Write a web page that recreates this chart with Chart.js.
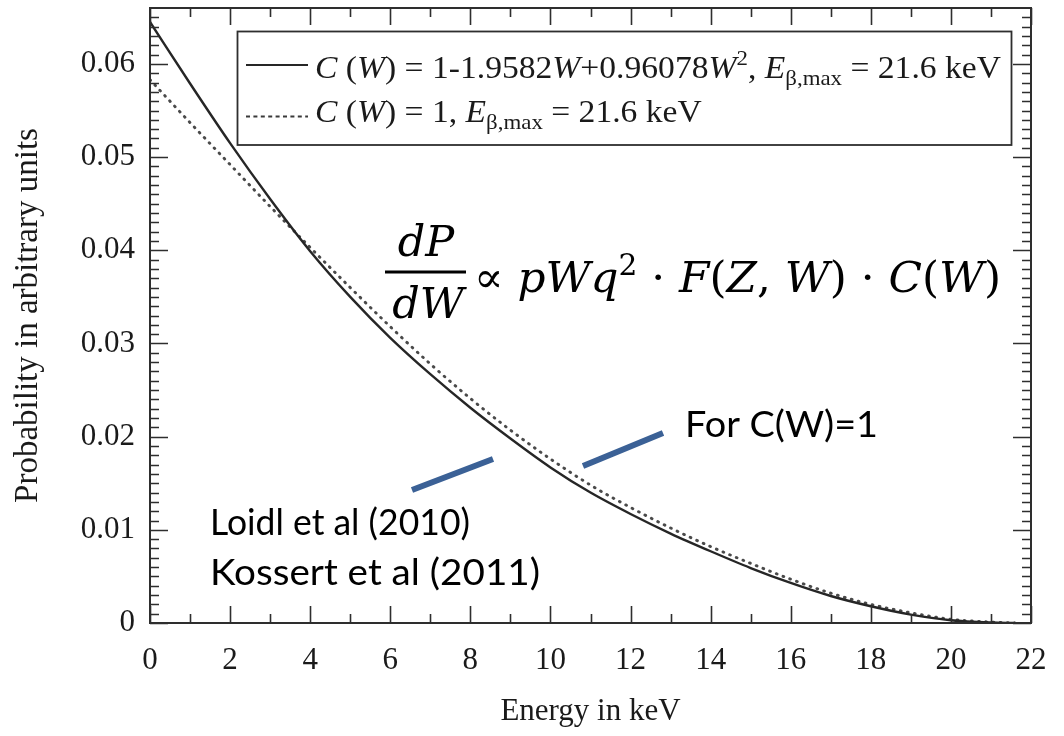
<!DOCTYPE html>
<html>
<head>
<meta charset="utf-8">
<script src="https://cdn.jsdelivr.net/npm/chart.js@4.4.1/dist/chart.umd.min.js"></script>
<style>
  html, body { margin: 0; padding: 0; background: #ffffff; }
  canvas { display: block; }
</style>
</head>
<body>
<canvas id="spectrum" width="1064" height="736"></canvas>
<script>
// Beta spectrum of a 21.6 keV emitter, with and without the shape factor C(W)
const energyKeV = [0, 1, 2, 3, 4, 5, 6, 7, 8, 9, 10, 11, 12, 13, 14, 15, 16, 17, 18, 19, 20, 21, 21.6];
const probShapeFactor = [0.0645, 0.0579, 0.0515, 0.0455, 0.0399, 0.0350, 0.0306, 0.0267, 0.0231, 0.0198, 0.0167, 0.0140, 0.0117, 0.0096, 0.0077, 0.0059, 0.0043, 0.0029, 0.0018, 0.0009, 0.0003, 0.00005, 0];
const probUnitShape = [0.0583, 0.0537, 0.0492, 0.0447, 0.0403, 0.0360, 0.0318, 0.0278, 0.0241, 0.0207, 0.0176, 0.0148, 0.0124, 0.0102, 0.0082, 0.0064, 0.0047, 0.0032, 0.0020, 0.0011, 0.0004, 0.0001, 0];

const xTickValues = [0, 2, 4, 6, 8, 10, 12, 14, 16, 18, 20, 22];
const xTickLabels = ['0', '2', '4', '6', '8', '10', '12', '14', '16', '18', '20', '22'];
const yTickValues = [0, 0.01, 0.02, 0.03, 0.04, 0.05, 0.06];
const yTickLabels = ['0', '0.01', '0.02', '0.03', '0.04', '0.05', '0.06'];

const xAxisTitle = 'Energy in keV';
const yAxisTitle = 'Probability in arbitrary units';

// Legend entries as runs of [text, style]
const legendShapeFactor = [['C', 'i'], [' (', 'n'], ['W', 'i'], [') = 1-1.9582', 'n'], ['W', 'i'], ['+0.96078', 'n'], ['W', 'i'], ['2', 'sup'], [', ', 'n'], ['E', 'i'], ['\u03B2,max', 'sub'], [' = 21.6 keV', 'n']];
const legendUnitShape = [['C', 'i'], [' (', 'n'], ['W', 'i'], [') = 1, ', 'n'], ['E', 'i'], ['\u03B2,max', 'sub'], [' = 21.6 keV', 'n']];

// Rate formula and notes
const formulaNum = 'dP';
const formulaDen = 'dW';
const formulaRest = [['\u221D ', 'n'], ['pWq', 'i'], ['2', 'sup'], [' \u00B7 ', 'n'], ['F', 'i'], ['(', 'n'], ['Z', 'i'], [', ', 'n'], ['W', 'i'], [') \u00B7 ', 'n'], ['C', 'i'], ['(', 'n'], ['W', 'i'], [')', 'n']];
const noteUnit = 'For C(W)=1';
const noteRefs = ['Loidl et al (2010)', 'Kossert et al (2011)'];

const SERIF = '"Liberation Serif", "Times New Roman", serif';
const MATH = '"DejaVu Serif", serif';
const SANS = 'Lato, "Open Sans", sans-serif';
const INK = '#1a1a1a';

function runFont(style, size, family) {
  const small = style === 'sup' || style === 'sub';
  const fs = small ? size * 0.68 : size;
  return (style === 'i' ? 'italic ' : '') + fs.toFixed(1) + 'px ' + family;
}
function measureRuns(ctx, runs, size, family) {
  let w = 0;
  for (const [t, st] of runs) { ctx.font = runFont(st, size, family); w += ctx.measureText(t).width; }
  return w;
}
function drawRuns(ctx, runs, x, baseline, size, family, sx) {
  ctx.save();
  ctx.translate(x, baseline);
  ctx.scale(sx, 1);
  ctx.textBaseline = 'alphabetic';
  ctx.textAlign = 'left';
  let cx = 0;
  for (const [t, st] of runs) {
    ctx.font = runFont(st, size, family);
    const dy = st === 'sup' ? -size * 0.4 : (st === 'sub' ? size * 0.22 : 0);
    ctx.fillText(t, cx, dy);
    cx += ctx.measureText(t).width;
  }
  ctx.restore();
}
function fitText(ctx, text, x, baseline, width, font) {
  ctx.save();
  ctx.font = font;
  const w = ctx.measureText(text).width;
  ctx.translate(x, baseline);
  ctx.scale(width / w, 1);
  ctx.textAlign = 'left';
  ctx.textBaseline = 'alphabetic';
  ctx.fillText(text, 0, 0);
  ctx.restore();
}

// Closed frame with inward ticks on all four sides
const framePlugin = {
  id: 'frame',
  afterDatasetsDraw(chart) {
    const { ctx, chartArea: a, scales: { x, y } } = chart;
    ctx.save();
    ctx.strokeStyle = '#2e2e2e';
    ctx.lineWidth = 1.6;
    ctx.beginPath();
    for (let k = 0; k <= 22; k++) {
      const px = Math.round(x.getPixelForValue(k)) + 0.5;
      const len = k % 2 === 0 ? 17 : 9;
      ctx.moveTo(px, a.bottom); ctx.lineTo(px, a.bottom - len);
      ctx.moveTo(px, a.top); ctx.lineTo(px, a.top + len);
    }
    for (let k = 0; k <= 65; k++) {
      const py = Math.round(y.getPixelForValue(k / 1000)) + 0.5;
      const len = k % 10 === 0 ? 18 : 9;
      ctx.moveTo(a.left, py); ctx.lineTo(a.left + len, py);
      ctx.moveTo(a.right, py); ctx.lineTo(a.right - len, py);
    }
    ctx.stroke();
    ctx.lineWidth = 2;
    ctx.strokeRect(a.left, a.top, a.right - a.left, a.bottom - a.top);
    ctx.restore();
  }
};

// Legend box with rich-text labels
const legendPlugin = {
  id: 'richLegend',
  afterDraw(chart) {
    const ctx = chart.ctx;
    const bx = 237.5, by = 31.5, bw = 774, bh = 113.5;
    ctx.save();
    ctx.fillStyle = '#ffffff';
    ctx.fillRect(bx, by, bw, bh);
    ctx.strokeStyle = '#2e2e2e';
    ctx.lineWidth = 1.8;
    ctx.strokeRect(bx, by, bw, bh);

    const ds = chart.data.datasets;
    ctx.strokeStyle = ds[0].borderColor;
    ctx.lineWidth = 2;
    ctx.beginPath(); ctx.moveTo(246, 65); ctx.lineTo(308, 65); ctx.stroke();
    ctx.strokeStyle = '#3a3a3a';
    ctx.setLineDash([4, 3.4]);
    ctx.beginPath(); ctx.moveTo(246, 116.5); ctx.lineTo(308, 116.5); ctx.stroke();
    ctx.setLineDash([]);

    ctx.fillStyle = INK;
    const size = 32;
    const w1 = measureRuns(ctx, legendShapeFactor, size, SERIF);
    const sx = (1001 - 315) / w1;
    drawRuns(ctx, legendShapeFactor, 315, 78, size, SERIF, sx);
    drawRuns(ctx, legendUnitShape, 315, 122, size, SERIF, sx);
    ctx.restore();
  }
};

// Rate formula, notes and pointer lines
const notesPlugin = {
  id: 'notes',
  afterDraw(chart) {
    const ctx = chart.ctx;
    ctx.save();
    ctx.fillStyle = '#000000';
    const msize = 43;
    ctx.font = 'italic ' + msize + 'px ' + MATH;
    ctx.textAlign = 'center';
    ctx.textBaseline = 'alphabetic';
    ctx.fillText(formulaNum, 426, 256);
    ctx.fillText(formulaDen, 428, 318);
    ctx.fillRect(385, 270.5, 81, 3);
    const wr = measureRuns(ctx, formulaRest, msize, MATH);
    drawRuns(ctx, formulaRest, 474, 292, msize, MATH, (1001 - 474) / wr);

    const nfont = '37px ' + SANS;
    fitText(ctx, noteUnit, 685, 437, 193, nfont);
    fitText(ctx, noteRefs[0], 210, 535, 260, nfont);
    fitText(ctx, noteRefs[1], 210, 585, 330, nfont);

    ctx.strokeStyle = '#3b6196';
    ctx.lineWidth = 6;
    ctx.lineCap = 'butt';
    ctx.beginPath();
    ctx.moveTo(412, 490); ctx.lineTo(493, 459);
    ctx.moveTo(583, 466); ctx.lineTo(663, 433);
    ctx.stroke();
    ctx.restore();
  }
};

new Chart(document.getElementById('spectrum').getContext('2d'), {
  type: 'line',
  data: {
    datasets: [
      {
        label: 'C(W) = 1-1.9582W+0.96078W\u00B2',
        data: energyKeV.map((e, i) => ({ x: e, y: probShapeFactor[i] })),
        borderColor: '#262626',
        borderWidth: 2.4,
        pointRadius: 0,
        cubicInterpolationMode: 'monotone',
        fill: false
      },
      {
        label: 'C(W) = 1',
        data: energyKeV.map((e, i) => ({ x: e, y: probUnitShape[i] })),
        borderColor: '#4a4a4a',
        borderWidth: 2.9,
        borderDash: [0.8, 6.4],
        borderCapStyle: 'round',
        pointRadius: 0,
        cubicInterpolationMode: 'monotone',
        fill: false
      }
    ]
  },
  options: {
    responsive: false,
    animation: false,
    devicePixelRatio: 1,
    layout: { padding: { top: 8, right: 33, bottom: 0, left: 0 } },
    plugins: { legend: { display: false }, tooltip: { enabled: false } },
    scales: {
      x: {
        type: 'linear',
        min: 0,
        max: 22,
        afterBuildTicks: s => { s.ticks = xTickValues.map(v => ({ value: v })); },
        afterFit: s => { s.height = 113; s.paddingLeft = 0; s.paddingRight = 0; },
        grid: { display: false, drawTicks: false },
        border: { display: false },
        ticks: {
          padding: 19,
          autoSkip: false,
          maxRotation: 0,
          color: INK,
          font: { family: SERIF, size: 31 },
          callback: (v, i) => xTickLabels[i]
        },
        title: {
          display: true,
          text: xAxisTitle,
          color: INK,
          font: { family: SERIF, size: 31 },
          padding: { top: 0, bottom: 6 }
        }
      },
      y: {
        type: 'linear',
        min: 0,
        max: 0.066,
        afterBuildTicks: s => { s.ticks = yTickValues.map(v => ({ value: v })); },
        afterFit: s => { s.width = 150; s.paddingTop = 0; s.paddingBottom = 0; },
        grid: { display: false, drawTicks: false },
        border: { display: false },
        ticks: {
          padding: 15,
          color: INK,
          font: { family: SERIF, size: 31 },
          callback: (v, i) => yTickLabels[i]
        },
        title: {
          display: true,
          text: yAxisTitle,
          color: INK,
          font: { family: SERIF, size: 33 },
          padding: { top: 9, bottom: 0 }
        }
      }
    }
  },
  plugins: [framePlugin, legendPlugin, notesPlugin]
});
</script>
</body>
</html>
